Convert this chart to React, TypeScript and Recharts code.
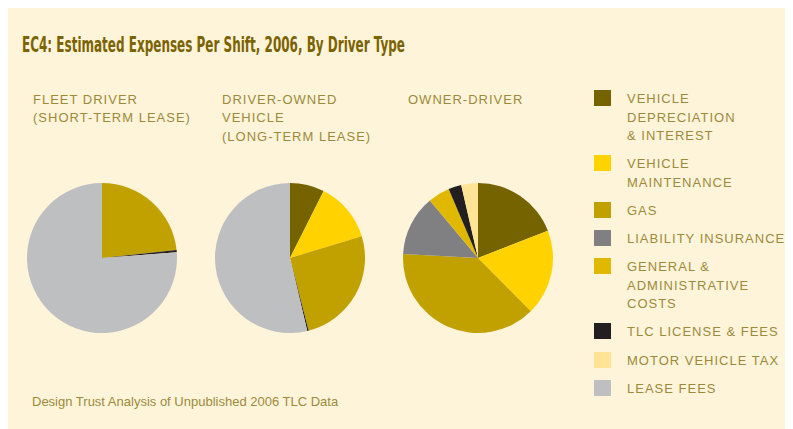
import { PieChart, Pie, Cell, Legend } from "recharts";

const categories = [
  "Vehicle Depreciation & Interest",
  "Vehicle Maintenance",
  "Gas",
  "Liability Insurance",
  "General & Administrative Costs",
  "TLC License & Fees",
  "Motor Vehicle Tax",
  "Lease Fees",
];

const legendLines = [
  ["VEHICLE", "DEPRECIATION", "& INTEREST"],
  ["VEHICLE", "MAINTENANCE"],
  ["GAS"],
  ["LIABILITY INSURANCE"],
  ["GENERAL &", "ADMINISTRATIVE", "COSTS"],
  ["TLC LICENSE & FEES"],
  ["MOTOR VEHICLE TAX"],
  ["LEASE FEES"],
];

const colors = ["#756300", "#FFD200", "#C1A100", "#808083", "#E0B800", "#231F20", "#FFE495", "#BEBFC1"];

// share of expenses per shift (%)
const fleetDriver = [0, 0, 23.3, 0, 0, 0.5, 0, 76.2];
const driverOwned = [7.4, 12.9, 25.7, 0, 0, 0.3, 0, 53.7];
const ownerDriver = [19.1, 18.5, 38.3, 13.1, 4.7, 2.8, 3.6, 0];

const pieTitles = [
  ["FLEET DRIVER", "(SHORT-TERM LEASE)"],
  ["DRIVER-OWNED", "VEHICLE", "(LONG-TERM LEASE)"],
  ["OWNER-DRIVER"],
];

const TITLE = "EC4: Estimated Expenses Per Shift, 2006, By Driver Type";
const SOURCE = "Design Trust Analysis of Unpublished 2006 TLC Data";

const BG = "#FEF4DA";
const TEXT = "#9C8A3A";
const labelFont = { fontFamily: "'Liberation Sans', Arial, sans-serif", fontSize: 13, letterSpacing: 1, color: TEXT, lineHeight: "18.5px" };

const toRows = (series: number[]) =>
  categories
    .map((name, i) => ({ name, value: series[i], color: colors[i] }))
    .filter((d) => d.value > 0);

// cx/cy are measured from the chart's 5px default margin
const pies = [
  { data: toRows(fleetDriver), cx: 89 },
  { data: toRows(driverOwned), cx: 277 },
  { data: toRows(ownerDriver), cx: 465 },
];
const titleX = [25, 214, 400];

const LegendBox = () => (
  <div style={labelFont}>
    {legendLines.map((lines, i) => (
      <div key={i} style={{ display: "flex", marginBottom: 9.7 }}>
        <div style={{ width: 17, height: 16, background: colors[i], flexShrink: 0 }} />
        <div style={{ marginLeft: 16 }}>
          {lines.map((l) => (
            <div key={l}>{l}</div>
          ))}
        </div>
      </div>
    ))}
  </div>
);

export default function App() {
  return (
    <div style={{ position: "relative", width: 785, height: 421, background: BG }}>
      <PieChart width={785} height={421}>
        {pies.map((p, k) => (
          <Pie
            key={k}
            data={p.data}
            dataKey="value"
            nameKey="name"
            cx={p.cx}
            cy={245}
            outerRadius={75}
            startAngle={90}
            endAngle={-270}
            stroke="none"
            isAnimationActive={false}
          >
            {p.data.map((d) => (
              <Cell key={d.name} fill={d.color} />
            ))}
          </Pie>
        ))}
        <Legend content={() => <LegendBox />} wrapperStyle={{ left: 586, top: 82, width: 200 }} />
      </PieChart>
      <svg width={785} height={70} style={{ position: "absolute", left: 0, top: 0 }}>
        <text
          x={14}
          y={44}
          fill="#7A6300"
          fontFamily="'DejaVu Sans Condensed', 'DejaVu Sans', sans-serif"
          fontWeight="bold"
          fontSize={22}
          textLength={383}
          lengthAdjust="spacingAndGlyphs"
        >
          {TITLE}
        </text>
      </svg>
      {pieTitles.map((lines, k) => (
        <div key={k} style={{ ...labelFont, position: "absolute", left: titleX[k], top: 82.5 }}>
          {lines.map((l) => (
            <div key={l}>{l}</div>
          ))}
        </div>
      ))}
      <div
        style={{
          position: "absolute",
          left: 24,
          top: 385,
          fontFamily: "'Liberation Sans', Arial, sans-serif",
          fontSize: 13,
          color: TEXT,
          lineHeight: "18.5px",
        }}
      >
        {SOURCE}
      </div>
    </div>
  );
}
